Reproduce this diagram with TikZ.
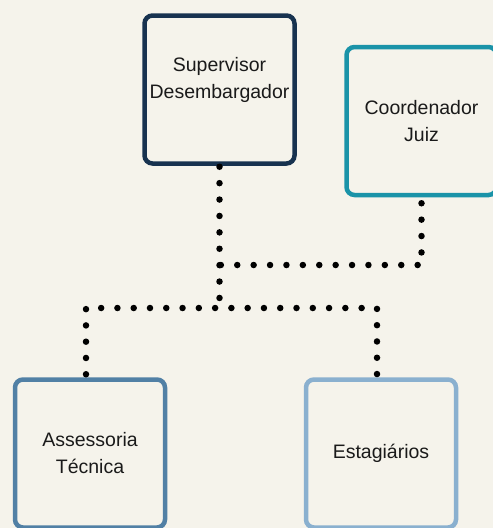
\documentclass[tikz,border=0pt]{standalone}
\usepackage{fontspec}
\setmainfont{Liberation Sans}
\definecolor{bgcream}{HTML}{F5F3EB}
\definecolor{supblue}{HTML}{17324F}
\definecolor{coordteal}{HTML}{1A93A8}
\definecolor{assblue}{HTML}{5180A5}
\definecolor{estblue}{HTML}{8AB0CF}
\definecolor{txtgray}{HTML}{1A1A1A}
\tikzset{
  orgbox/.style={draw=#1, line width=4.5pt, rounded corners=8pt, fill=bgcream,
    minimum width=150pt, minimum height=148pt, align=center, text=txtgray,
    font=\fontsize{19.5}{27}\selectfont},
  dotline/.style={line width=6.5pt, line cap=round, dash pattern=on 0pt off #1},
  dotline/.default=16.4pt
}
\begin{document}
\begin{tikzpicture}[x=1pt, y=-1pt]
\clip (0,0) rectangle (493,528);
\fill[bgcream] (0,0) rectangle (493,528);
% caixas
\node[orgbox=supblue, text depth=24pt] (sup) at (219.5,89.5) {Supervisor\\Desembargador};
\node[orgbox=coordteal] (coord) at (421.5,121) {Coordenador\\Juiz};
\node[orgbox=assblue] (ass) at (90,453.5) {Assessoria\\Técnica};
\node[orgbox=estblue] (est) at (381,453.5) {Estagiários};
% ligações
\coordinate (bus) at (219.5,308);
\draw[dotline] ([yshift=-1pt]sup.south) -- (bus);
\draw[dotline] ([yshift=-6pt]coord.south) |- (sup.south |- 0,265);
\draw[dotline=16.28pt] ([xshift=-4pt,yshift=3pt]ass.north) |- (bus) -| ([xshift=-4pt,yshift=3pt]est.north);
\end{tikzpicture}
\end{document}
